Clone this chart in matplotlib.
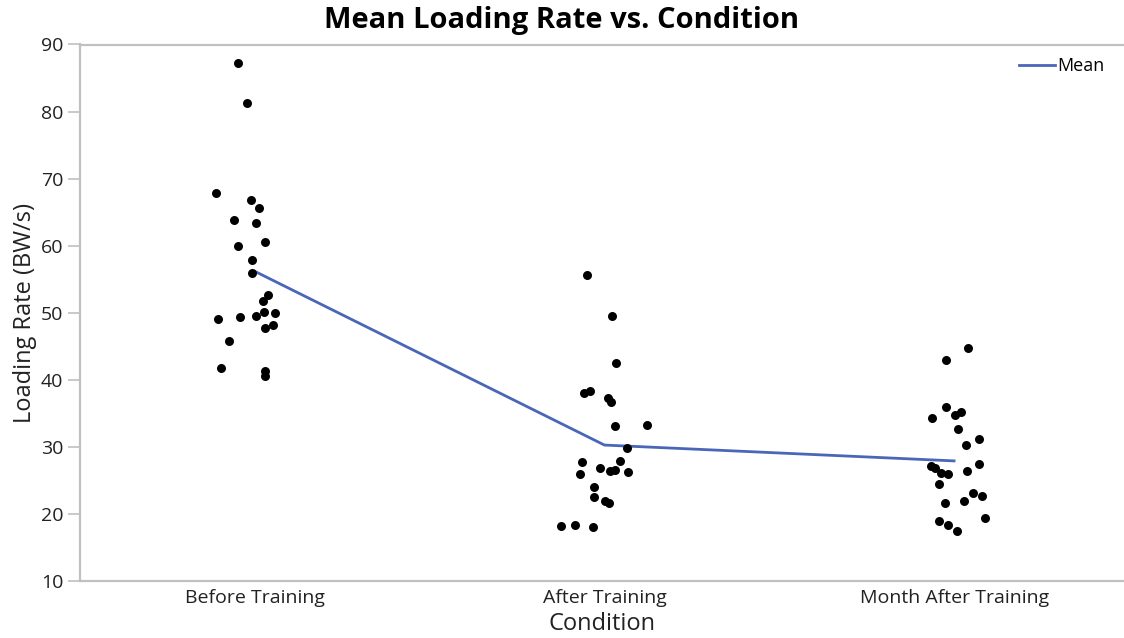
# coding:utf-8
# 不同训练阶段的平均负荷率散点图

import numpy as np
import matplotlib
matplotlib.use("Agg")
import matplotlib.pyplot as plt

plt.rcParams['font.family'] = ['Open Sans', 'DejaVu Sans']

# 分组
conditions = ["Before Training", "After Training", "Month After Training"]

# 每组数据 (BW/s)
before = [87.2, 81.3, 67.9, 66.8, 65.6, 63.8, 63.4, 60.6, 60.0, 57.9, 56.0, 52.7,
          51.7, 49.1, 49.4, 49.5, 50.1, 49.9, 47.8, 48.1, 45.8, 41.7, 41.3, 40.6]
after = [55.6, 49.5, 42.5, 38.0, 38.4, 37.3, 36.7, 33.1, 33.3, 29.8, 27.7, 27.9,
         25.9, 26.8, 26.4, 26.5, 26.3, 24.0, 22.5, 22.0, 21.7, 18.2, 18.3, 18.1]
month = [44.8, 43.0, 35.9, 34.3, 34.8, 35.2, 32.7, 31.1, 30.3, 27.4, 27.1, 26.8,
         26.1, 25.9, 26.4, 24.5, 23.1, 22.7, 21.6, 21.9, 19.4, 19.0, 18.3, 17.5]

# 横向抖动
jit_before = [-0.049, -0.021, -0.111, -0.011, 0.011, -0.059, 0.003, 0.028, -0.048, -0.009, -0.009, 0.038,
              0.024, -0.105, -0.043, 0.003, 0.026, 0.059, 0.028, 0.051, -0.075, -0.096, 0.028, 0.028]
jit_after = [-0.049, 0.022, 0.032, -0.059, -0.042, 0.009, 0.020, 0.029, 0.123, 0.064, -0.065, 0.045,
             -0.071, -0.013, 0.017, 0.029, 0.066, -0.029, -0.031, 0.002, 0.013, -0.123, -0.085, -0.034]
jit_month = [0.040, -0.023, -0.023, -0.064, 0.003, 0.020, 0.012, 0.071, 0.034, 0.071, -0.066, -0.054,
             -0.038, -0.016, 0.036, -0.044, 0.055, 0.081, -0.027, 0.028, 0.089, -0.043, -0.016, 0.009]

groups = [before, after, month]
jitters = [jit_before, jit_after, jit_month]

fig = plt.figure(figsize=(11.24, 6.38), dpi=100)
ax = fig.add_axes([80 / 1124, 57 / 638, 1044 / 1124, 536.5 / 638])

gray = "#c0c0c0"
for i, (vals, jit) in enumerate(zip(groups, jitters)):
    ax.scatter(i + np.array(jit), vals, s=42, color="black", zorder=3, linewidths=0)

means = [np.mean(g) for g in groups]
ax.plot(range(len(conditions)), means, color="#4a66b8", lw=2.0, label="Mean", zorder=2)

ax.set_xlim(-0.5, 2.486)
ax.set_ylim(10, 90)
ax.set_yticks(range(10, 91, 10))
ax.set_xticks(range(len(conditions)))
ax.set_xticklabels(conditions)

for side in ["left", "bottom", "top"]:
    ax.spines[side].set_color(gray)
    ax.spines[side].set_linewidth(1.6)
ax.spines["right"].set_visible(False)
ax.tick_params(axis="y", length=9, width=1.2, color=gray, labelsize=14, labelcolor="#222222", pad=3)
ax.tick_params(axis="x", length=0, labelsize=14, labelcolor="#222222", pad=6)

ax.set_xlabel("Condition", fontsize=17, color="#222222", labelpad=3)
ax.set_ylabel("Loading Rate (BW/s)", fontsize=17, color="#222222", labelpad=3)
fig.suptitle("Mean Loading Rate vs. Condition", fontsize=21, fontweight="bold", y=0.99)

leg = ax.legend(loc="upper right", frameon=False, fontsize=13, handlelength=2.0,
                handletextpad=0.1, borderaxespad=0.3, bbox_to_anchor=(0.993, 1.0))

plt.savefig("out.png", dpi=100)
plt.close()
